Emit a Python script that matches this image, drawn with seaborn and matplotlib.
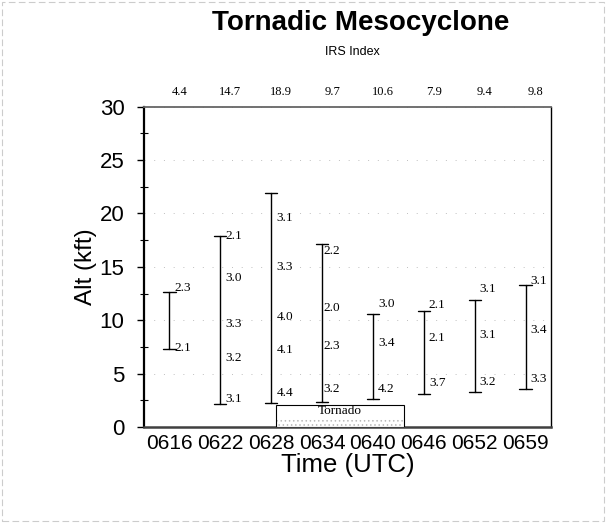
import pandas as pd
import numpy as np
import matplotlib
matplotlib.use("Agg")
import matplotlib.pyplot as plt
import seaborn as sns
from matplotlib.patches import Rectangle
from matplotlib.ticker import MultipleLocator

# Data
times = ["0616", "0622", "0628", "0634", "0640", "0646", "0652", "0659"]
alt_low = [7.3, 2.15, 2.2, 2.3, 2.6, 3.1, 3.3, 3.6]
alt_high = [12.6, 17.9, 21.9, 17.1, 10.6, 10.9, 11.9, 13.3]
irs_index = ["4.4", "14.7", "18.9", "9.7", "10.6", "7.9", "9.4", "9.8"]

# per-time segment labels and the heights they sit at
seg_labels = [
    ["2.3", "2.1"],
    ["2.1", "3.0", "3.3", "3.2", "3.1"],
    ["3.1", "3.3", "4.0", "4.1", "4.4"],
    ["2.2", "2.0", "2.3", "3.2"],
    ["3.0", "3.4", "4.2"],
    ["2.1", "2.1", "3.7"],
    ["3.1", "3.1", "3.2"],
    ["3.1", "3.4", "3.3"],
]
seg_heights = [
    [13.0, 7.4],
    [17.9, 14.0, 9.6, 6.5, 2.6],
    [19.6, 15.0, 10.3, 7.2, 3.2],
    [16.5, 11.1, 7.6, 3.6],
    [11.5, 7.9, 3.6],
    [11.4, 8.3, 4.1],
    [12.9, 8.6, 4.2],
    [13.7, 9.1, 4.5],
]
tornado_start, tornado_end, tornado_top = 2.09, 4.62, 2.1

# long-form table: min/max rows for each time
df = pd.DataFrame({
    "time": times * 2,
    "alt": alt_low + alt_high,
})

sns.set_style("white")
plt.rcParams["font.family"] = ["Liberation Sans", "DejaVu Sans"]
plt.rcParams["text.color"] = "black"
plt.rcParams["xtick.color"] = "black"
plt.rcParams["ytick.color"] = "black"
plt.rcParams["axes.labelcolor"] = "black"
plt.rcParams["hatch.linewidth"] = 0.6
serif = ["Liberation Serif", "DejaVu Serif"]

fig = plt.figure(figsize=(6.06, 5.23), dpi=100)
ax = fig.add_axes([0.2376, 0.1836, 0.6716, 0.6124])

# range bars: 0-100 percentile interval = min..max
sns.pointplot(data=df, x="time", y="alt", order=times, errorbar=("pi", 100),
              capsize=0.24, color="black", marker="", linestyle="none",
              err_kws={"linewidth": 1.0}, ax=ax)

ax.set_xlim(-0.5, 7.5)
ax.set_ylim(0, 30)
ax.yaxis.set_major_locator(MultipleLocator(5))
ax.yaxis.set_minor_locator(MultipleLocator(2.5))
ax.tick_params(axis="y", which="major", direction="out", length=5, width=1,
               labelsize=16, pad=9, left=True)
ax.tick_params(axis="y", which="minor", direction="inout", length=6, width=0.8, left=True)
ax.tick_params(axis="x", length=0, labelsize=15, pad=5)
ax.grid(axis="y", which="major", linestyle=(0, (1, 9)), color="0.75", linewidth=0.7)
ax.set_axisbelow(True)

for side, lw, col in [("left", 1.6, "black"), ("bottom", 1.8, "0.25"),
                      ("right", 1.0, "black"), ("top", 1.3, "0.4")]:
    ax.spines[side].set_visible(True)
    ax.spines[side].set_linewidth(lw)
    ax.spines[side].set_color(col)

ax.set_xlabel("Time (UTC)", fontsize=18.5, labelpad=0)
ax.set_ylabel("Alt (kft)", fontsize=17.5, labelpad=2)

# segment labels beside each bar
for i, (labs, hts) in enumerate(zip(seg_labels, seg_heights)):
    dx = 0.03 if times[i] == "0634" else 0.1
    for lab, h in zip(labs, hts):
        ax.text(i + dx, h, lab, family=serif, fontsize=9.5, va="center", ha="left")

# tornado box: white top, light stipple band at the bottom
ax.add_patch(Rectangle((tornado_start, 0), tornado_end - tornado_start, tornado_top,
                       facecolor="white", edgecolor="black", linewidth=0.8, zorder=3))
ax.add_patch(Rectangle((tornado_start + 0.03, 0.05), tornado_end - tornado_start - 0.06, 0.8,
                       facecolor="none", edgecolor="0.72", linewidth=0,
                       hatch="....", zorder=3))
ax.text((tornado_start + tornado_end) / 2, 1.45, "Tornado", family=serif,
        fontsize=9.5, ha="center", va="center", zorder=4)

# IRS index row above the plot
for i, v in enumerate(irs_index):
    ax.text(i + 0.2, 1.045, v, transform=ax.get_xaxis_transform(), family=serif,
            fontsize=9, ha="center", va="center")
fig.text(0.581, 0.90, "IRS Index", fontsize=9, ha="center", va="center")
fig.text(0.595, 0.956, "Tornadic Mesocyclone", fontsize=20, fontweight="bold",
         ha="center", va="center")

# faint scanned page frame
fig.add_artist(Rectangle((0.004, 0.004), 0.992, 0.992, transform=fig.transFigure,
                         fill=False, edgecolor="0.8", linewidth=0.8,
                         linestyle=(0, (6, 3))))

fig.savefig("out.png", dpi=100)
plt.close(fig)
